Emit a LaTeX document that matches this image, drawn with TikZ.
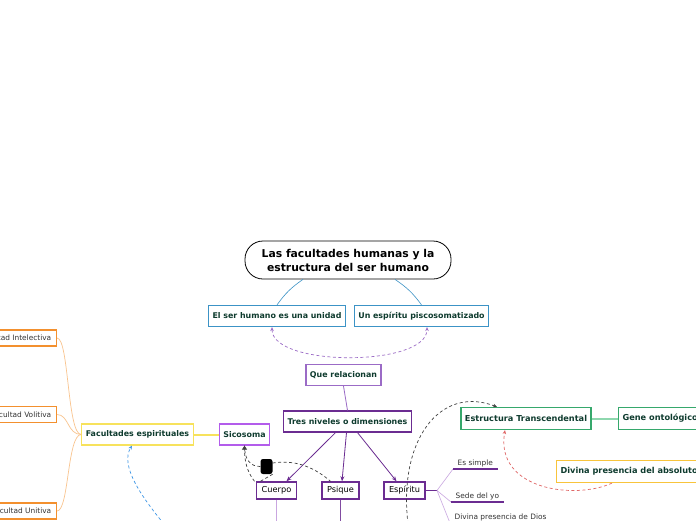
\documentclass[tikz,border=0pt]{standalone}
\usepackage{fontspec}
\setmainfont{DejaVu Sans}
\usepackage{xcolor}
\usepackage{tikz}
\usetikzlibrary{arrows.meta}

\definecolor{txtgreen}{HTML}{0E3B2E}
\definecolor{mmblue}{HTML}{3C93C6}
\definecolor{mmpurple}{HTML}{6B2C91}
\definecolor{lilac}{HTML}{9B6BC6}
\definecolor{lightlilac}{HTML}{C9A6E0}
\definecolor{mmviolet}{HTML}{B35CEB}
\definecolor{mmyellow}{HTML}{F7E25C}
\definecolor{mmorange}{HTML}{F3902E}
\definecolor{lightorange}{HTML}{F9C48E}
\definecolor{mmgreen}{HTML}{36A86C}
\definecolor{lightgreen}{HTML}{8ED7AE}
\definecolor{amber}{HTML}{F8C43C}
\definecolor{dashred}{HTML}{E06666}
\definecolor{dashblue}{HTML}{3F97E6}

\tikzset{
  topic/.style={shape=rectangle, draw, line width=1.2pt, text=txtgreen, font=\bfseries\fontsize{7.9}{9.5}\selectfont, inner xsep=4pt, inner ysep=0pt, minimum height=21pt},
  bigtopic/.style={topic, font=\bfseries\fontsize{8.2}{9.5}\selectfont, minimum height=22pt},
  dimbox/.style={shape=rectangle, draw=mmpurple, line width=1.5pt, font=\fontsize{8.2}{10}\selectfont, inner xsep=5pt, inner ysep=0pt, minimum height=17pt},
  facbox/.style={shape=rectangle, draw=mmorange, line width=1.5pt, text=black!80, font=\fontsize{7.4}{9}\selectfont, inner xsep=5pt, inner ysep=0pt, minimum height=16pt, anchor=east},
  leaf/.style={font=\fontsize{7.4}{9}\selectfont, text=black!80, inner xsep=4.5pt, inner ysep=1.5pt, text depth=2pt, anchor=south west},
  rel/.style={dash pattern=on 3pt off 2.5pt, line width=0.7pt},
  tip/.style={-{Stealth[length=4pt, width=3.5pt]}}
}

\begin{document}
\begin{tikzpicture}[x=1pt, y=-1pt]
	% Nodes, then branches and dashed relations:
	\useasboundingbox (0, 0) rectangle (696, 520);
	\fill[white] (0, 0) rectangle (696, 520);
	\clip (0, 0) rectangle (696, 520);
	\node[shape=rectangle, draw, line width=0.8pt, rounded corners=18pt, minimum width=206pt, minimum height=38pt, align=center, font=\bfseries\fontsize{10.8}{14}\selectfont](title) at (348, 260){Las facultades humanas y la\\estructura del ser humano};
	\node[topic, draw=mmblue](unidad) at (277, 316){El ser humano es una unidad};
	\node[topic, draw=mmblue](piscos) at (421.5, 316){Un espíritu piscosomatizado};
	\node[topic, draw=lilac](relac) at (343.5, 375){Que relacionan};
	\node[topic, draw=mmpurple](niveles) at (347.5, 421.5){Tres niveles o dimensiones};
	\node[topic, draw=mmviolet](sicosoma) at (244.5, 434.5){Sicosoma};
	\node[topic, draw=mmyellow](facesp) at (137.5, 434.5){Facultades espirituales};
	\node[facbox](fint) at (57, 338){Facultad Intelectiva};
	\node[facbox](fvol) at (57, 414.5){Facultad Volitiva};
	\node[facbox](funi) at (57, 511){Facultad Unitiva};
	\node[dimbox](cuerpo) at (276.5, 490.5){Cuerpo};
	\node[dimbox](psique) at (340.5, 490.5){Psique};
	\node[dimbox](espiritu) at (404.5, 490.5){Espíritu};
	\node[shape=rectangle, fill=black, rounded corners=2.5pt, minimum width=12pt, minimum height=15pt, inner sep=0pt](lbl) at (266.5, 466.5){};
	\node[bigtopic, draw=mmgreen](estruc) at (526, 418.5){Estructura Transcendental};
	\node[bigtopic, draw=mmgreen, anchor=west](gene) at (618, 418.5){Gene ontológico};
	\node[bigtopic, draw=amber, anchor=west](divabs) at (556, 471.5){Divina presencia del absoluto};
	\node[leaf](simple) at (453, 469){Es simple};
	\node[leaf](sede) at (451, 502){Sede del yo};
	\node[leaf](dios) at (450, 523){Divina presencia de Dios};
	\coordinate (ej) at (437, 490.5);
	\coordinate (cbot) at (276.5, 524);
	\coordinate (pbot) at (340.5, 524);
	\coordinate (ebot) at (408, 524);
	\coordinate (bbot) at (164, 524);

	\draw[mmblue, line width=0.6pt] ([xshift=-45]title.south) to[bend right=10] (unidad.north);
	\draw[mmblue, line width=0.6pt] ([xshift=47]title.south) to[bend left=10] (piscos.north);
	\draw[rel, lilac, {Stealth[length=4pt, width=3.5pt]}-{Stealth[length=4pt, width=3.5pt]}] ([xshift=-5]unidad.south) .. controls +(0, 40) and +(0, 40) .. ([xshift=5.5]piscos.south);
	\draw[lilac, line width=0.8pt] (relac.south) -- (niveles.north);
	\draw[mmpurple, line width=0.8pt, -{Stealth[length=5pt, width=4pt]}] ([xshift=-12]niveles.south) -- ([xshift=10]cuerpo.north);
	\draw[mmpurple, line width=0.8pt, -{Stealth[length=5pt, width=4pt]}] ([xshift=-1]niveles.south) -- ([xshift=1.5]psique.north);
	\draw[mmpurple, line width=0.8pt, -{Stealth[length=5pt, width=4pt]}] ([xshift=10]niveles.south) -- ([xshift=-8]espiritu.north);
	\draw[lightlilac, line width=0.8pt] (cuerpo.south) -- (cbot);
	\draw[mmpurple!85, line width=0.8pt] (psique.south) -- (pbot);
	\draw[mmpurple, line width=0.8pt] (espiritu.east) -- (ej);
	\foreach \leaf in {simple, sede, dios} {
		\draw[lightlilac, line width=0.6pt] (ej) -- (\leaf.south west);
		\draw[mmpurple, line width=1.2pt] (\leaf.south west) -- (\leaf.south east);
	}
	\draw[mmyellow, line width=2pt] (facesp.east) -- (sicosoma.west);
	\foreach \fac in {fint, fvol, funi}
		\draw[lightorange, line width=0.7pt] (facesp.west) .. controls +(-14, 0) and +(12, 0) .. (\fac.east);
	\draw[rel, dashblue, tip] (bbot) .. controls (140, 495) and (120, 465) .. ([xshift=-5.5]facesp.south);
	\draw[rel, black!75, -{Triangle[length=4pt, width=5pt]}] ([xshift=-22]cuerpo.north) .. controls +(-8, -10) and +(0, 14) .. (sicosoma.south);
	\draw[rel, black!75] (lbl.west) .. controls +(-10, 0) and +(0, 14) .. (sicosoma.south);
	\draw[rel, black!75] (lbl.south east) -- ([xshift=-16]cuerpo.north);
	\draw[rel, black!75] ([yshift=3.5]lbl.east) .. controls +(25, -4) and +(-14, -12) .. ([xshift=-10]psique.north);
	\draw[rel, black!75, tip] (ebot) .. controls (398, 440) and (440, 385) .. ([xshift=-29]estruc.north);
	\draw[rel, dashred, tip] ([xshift=56]divabs.south west) .. controls (575, 500) and (495, 490) .. ([xshift=-21]estruc.south);
	\draw[lightgreen, line width=2pt] (estruc.east) -- (gene.west);
\end{tikzpicture}
\end{document}
